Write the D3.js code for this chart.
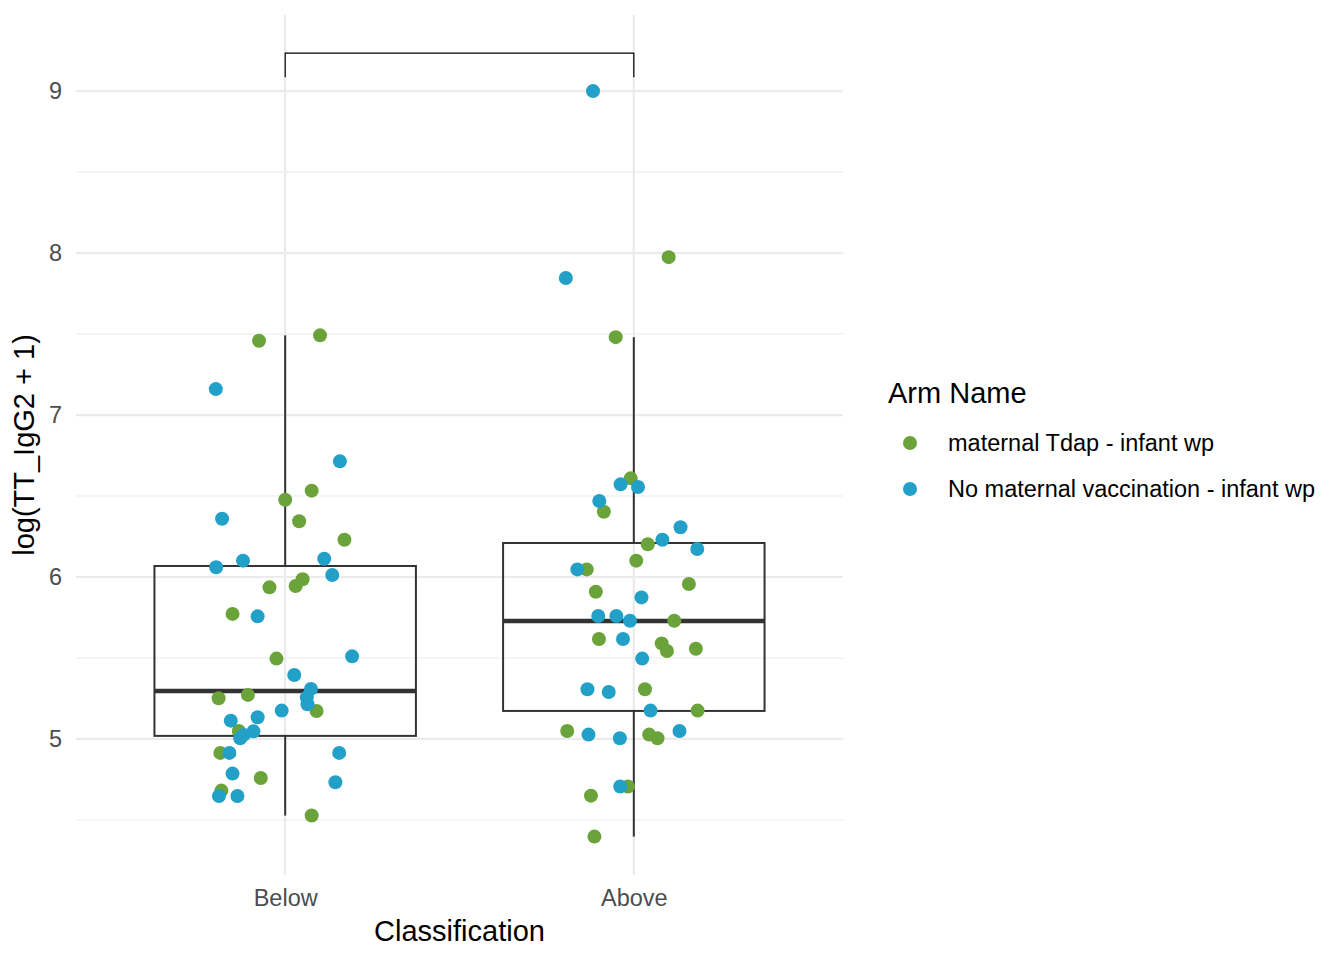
<!DOCTYPE html>
<html lang="en">
<head>
<meta charset="UTF-8">
<title>TT_IgG2 by classification</title>
<script src="https://cdn.jsdelivr.net/npm/d3@7"></script>
<style>
  * { margin: 0; padding: 0; }
  html, body { overflow: hidden; background: #fff; }
  text { font-family: "Liberation Sans", Arial, Helvetica, sans-serif; }
</style>
</head>
<body>
<div id="chart"></div>
<script>
// categories / groups
const classes = ['Below', 'Above']
const arms = ['maternal Tdap - infant wp', 'No maternal vaccination - infant wp']
const armColors = ['#6aa33a', '#22a0c8']

// points per class and arm: [value, jitter (category units)]
const belowTdap = [
  [7.459, -0.075], [7.492, 0.100], [6.533, 0.076], [6.477, 0.000], [6.344, 0.040],
  [6.230, 0.170], [5.986, 0.050], [5.944, 0.030], [5.936, -0.045], [5.772, -0.151],
  [5.496, -0.025], [5.251, -0.191], [5.272, -0.107], [5.173, 0.090], [5.049, -0.133],
  [4.914, -0.186], [4.759, -0.070], [4.681, -0.183], [4.527, 0.076]
]
const belowNone = [
  [7.160, -0.199], [6.714, 0.157], [6.360, -0.181], [6.113, 0.112], [6.101, -0.121],
  [6.060, -0.198], [6.012, 0.135], [5.757, -0.079], [5.510, 0.192], [5.395, 0.026],
  [5.309, 0.074], [5.257, 0.062], [5.214, 0.064], [5.175, -0.010], [5.113, -0.156],
  [5.134, -0.079], [5.047, -0.091], [5.025, -0.119], [5.004, -0.129], [4.914, -0.160],
  [4.914, 0.155], [4.786, -0.151], [4.733, 0.144], [4.648, -0.190], [4.648, -0.137]
]
const aboveTdap = [
  [7.975, 0.100], [7.481, -0.052], [6.609, -0.009], [6.403, -0.086], [6.202, 0.040],
  [6.101, 0.007], [6.047, -0.135], [5.957, 0.158], [5.909, -0.109], [5.730, 0.116],
  [5.617, -0.100], [5.590, 0.080], [5.543, 0.095], [5.557, 0.178], [5.307, 0.032],
  [5.175, 0.183], [5.049, -0.191], [5.027, 0.044], [5.004, 0.068], [4.706, -0.017],
  [4.650, -0.123], [4.397, -0.113]
]
const aboveNone = [
  [9.000, -0.117], [7.846, -0.195], [6.572, -0.038], [6.556, 0.012], [6.469, -0.099],
  [6.307, 0.134], [6.230, 0.082], [6.173, 0.182], [6.047, -0.162], [5.874, 0.022],
  [5.759, -0.102], [5.759, -0.050], [5.730, -0.011], [5.617, -0.031], [5.496, 0.024],
  [5.307, -0.133], [5.290, -0.072], [5.175, 0.048], [5.049, 0.131], [5.027, -0.130],
  [5.004, -0.040], [4.706, -0.039]
]

// box stats per class: [lower whisker, Q1, median, Q3, upper whisker]
const boxStats = {
  Below: [4.527, 5.019, 5.296, 6.068, 7.492],
  Above: [4.397, 5.173, 5.728, 6.210, 7.481]
}

const yTicks = [5, 6, 7, 8, 9]
const yMinor = [4.5, 5.5, 6.5, 7.5, 8.5]
const bracketY = [9.086, 9.235]

function drawChart() {
  const width = 1344
  const height = 960
  const svg = d3.select('#chart')
    .append('svg')
    .attr('width', width)
    .attr('height', height)
    .style('background', '#fff')

  const panel = { left: 76, right: 843, top: 15, bottom: 875 }

  const x = d3.scalePoint()
    .domain(classes)
    .range([panel.left, panel.right])
    .padding(0.6)
  const step = x.step()

  const y = d3.scaleLinear()
    .domain([4.16, 9.47])
    .range([panel.bottom, panel.top])

  // grid
  const grid = svg.append('g')
  grid.selectAll('.minor')
    .data(yMinor)
    .join('line')
    .attr('x1', panel.left).attr('x2', panel.right)
    .attr('y1', d => y(d)).attr('y2', d => y(d))
    .attr('stroke', '#ebebeb').attr('stroke-width', 1.1)
  grid.selectAll('.major')
    .data(yTicks)
    .join('line')
    .attr('x1', panel.left).attr('x2', panel.right)
    .attr('y1', d => y(d)).attr('y2', d => y(d))
    .attr('stroke', '#ebebeb').attr('stroke-width', 2.2)
  grid.selectAll('.vmajor')
    .data(classes)
    .join('line')
    .attr('x1', d => x(d)).attr('x2', d => x(d))
    .attr('y1', panel.top).attr('y2', panel.bottom)
    .attr('stroke', '#ebebeb').attr('stroke-width', 2.2)

  // boxplots
  const boxW = step * 0.75
  const boxes = svg.append('g')
    .selectAll('g')
    .data(classes)
    .join('g')
  boxes.append('line')
    .attr('x1', d => x(d)).attr('x2', d => x(d))
    .attr('y1', d => y(boxStats[d][4])).attr('y2', d => y(boxStats[d][3]))
    .attr('stroke', '#333').attr('stroke-width', 2)
  boxes.append('line')
    .attr('x1', d => x(d)).attr('x2', d => x(d))
    .attr('y1', d => y(boxStats[d][1])).attr('y2', d => y(boxStats[d][0]))
    .attr('stroke', '#333').attr('stroke-width', 2)
  boxes.append('rect')
    .attr('x', d => x(d) - boxW / 2)
    .attr('width', boxW)
    .attr('y', d => y(boxStats[d][3]))
    .attr('height', d => y(boxStats[d][1]) - y(boxStats[d][3]))
    .attr('fill', 'none')
    .attr('stroke', '#333').attr('stroke-width', 2)
  boxes.append('line')
    .attr('x1', d => x(d) - boxW / 2).attr('x2', d => x(d) + boxW / 2)
    .attr('y1', d => y(boxStats[d][2])).attr('y2', d => y(boxStats[d][2]))
    .attr('stroke', '#333').attr('stroke-width', 4.5)

  // points
  const points = []
  const addGroup = (cls, arm, arr) => arr.forEach(p => points.push({ cls, arm, v: p[0], j: p[1] }))
  addGroup('Below', 0, belowTdap)
  addGroup('Below', 1, belowNone)
  addGroup('Above', 0, aboveTdap)
  addGroup('Above', 1, aboveNone)

  svg.append('g')
    .selectAll('circle')
    .data(points)
    .join('circle')
    .attr('cx', d => x(d.cls) + d.j * step)
    .attr('cy', d => y(d.v))
    .attr('r', 7)
    .attr('fill', d => armColors[d.arm])

  // significance bracket
  svg.append('path')
    .attr('d', d3.line()([
      [x('Below'), y(bracketY[0])],
      [x('Below'), y(bracketY[1])],
      [x('Above'), y(bracketY[1])],
      [x('Above'), y(bracketY[0])]
    ]))
    .attr('fill', 'none')
    .attr('stroke', '#000')
    .attr('stroke-width', 1.2)

  // axes
  const yAxis = svg.append('g')
    .attr('transform', `translate(${panel.left},0)`)
    .call(d3.axisLeft(y).tickValues(yTicks).tickFormat(d3.format('d')).tickSize(0).tickPadding(14))
  yAxis.select('.domain').remove()
  yAxis.selectAll('text')
    .attr('font-size', 23.5)
    .attr('fill', '#4d4d4d')
    .style('font-family', '"Liberation Sans", Arial, sans-serif')

  const xAxis = svg.append('g')
    .attr('transform', `translate(0,${panel.bottom})`)
    .call(d3.axisBottom(x).tickSize(0).tickPadding(14))
  xAxis.select('.domain').remove()
  xAxis.selectAll('text')
    .attr('font-size', 23.5)
    .attr('fill', '#4d4d4d')
    .style('font-family', '"Liberation Sans", Arial, sans-serif')

  // axis titles
  svg.append('text')
    .attr('x', (panel.left + panel.right) / 2)
    .attr('y', 941)
    .attr('text-anchor', 'middle')
    .attr('font-size', 29)
    .text('Classification')
  svg.append('text')
    .attr('transform', `translate(34,${(panel.top + panel.bottom) / 2}) rotate(-90)`)
    .attr('text-anchor', 'middle')
    .attr('font-size', 29)
    .text('log(TT_IgG2 + 1)')

  // legend
  const legend = svg.append('g').attr('transform', 'translate(888,0)')
  legend.append('text')
    .attr('x', 0).attr('y', 403)
    .attr('font-size', 29)
    .text('Arm Name')
  const items = legend.selectAll('.item')
    .data(arms)
    .join('g')
    .attr('transform', (d, i) => `translate(0,${443 + i * 46})`)
  items.append('circle')
    .attr('cx', 22).attr('cy', 0).attr('r', 7)
    .attr('fill', (d, i) => armColors[i])
  items.append('text')
    .attr('x', 60).attr('y', 8)
    .attr('font-size', 23.5)
    .text(d => d)
}

drawChart()
</script>
</body>
</html>
